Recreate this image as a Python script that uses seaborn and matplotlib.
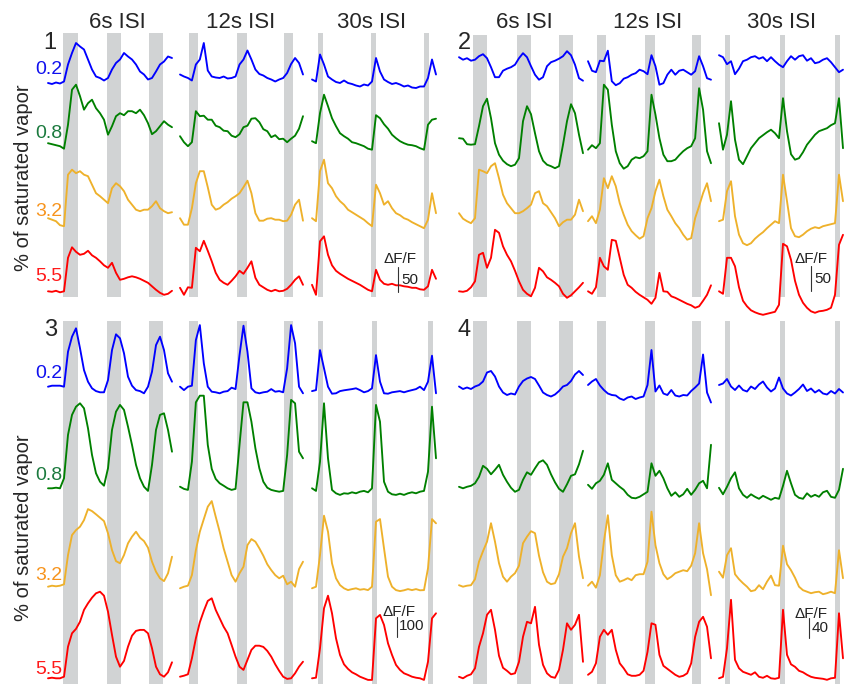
import numpy as np
import matplotlib
matplotlib.use("Agg")
import matplotlib.pyplot as plt
import seaborn as sns

# ------------------------------------------------------------------ data
isi_labels = ["6s ISI", "12s ISI", "30s ISI"]
conc_labels = ["0.2", "0.8", "3.2", "5.5"]
window_s = [26.0, 38.8, 76.5]          # recording window of each ISI column (s)
stim_dur = 3.0                          # odor pulse length (s)
onsets_p1 = [[3.2, 12.3, 21.2], [2.8, 18.0, 32.8], [3.7, 36.4, 69.4]]
onsets_p2 = [[2.9, 12.1, 21.0], [2.8, 18.0, 32.8], [3.7, 37.7, 71.6]]
onsets_p3 = [[3.2, 12.3, 21.2], [2.8, 18.0, 32.8], [3.7, 37.3, 71.6]]
onsets_p4 = [[2.9, 12.1, 21.0], [2.8, 18.0, 32.8], [3.7, 37.7, 71.6]]
scale_values = [50, 50, 100, 40]        # dF/F scale bar (%)

# dF/F (%) traces, order: 0.2, 0.8, 3.2, 5.5
p1_6s_02 = [0,-2,1,-1,3,37,60,80,73,67,47,27,13,10,5,10,27,40,47,60,53,47,37,23,17,7,10,23,37,43,53,50]
p1_6s_08 = [3,1,-1,-3,-8,40,110,120,97,70,83,90,73,63,50,20,37,57,63,59,67,67,63,70,59,43,21,27,37,47,40,35]
p1_6s_32 = [3,0,-3,-11,-13,90,100,93,97,90,87,70,53,47,40,33,63,73,67,57,40,30,20,17,20,20,27,37,23,17,13,15]
p1_6s_55 = [0,-1,1,-2,0,67,88,79,73,75,81,72,67,60,52,47,57,37,23,25,28,30,28,25,21,17,10,3,-3,-7,-5,1]
p1_12s_02 = [17,13,10,5,37,47,80,25,13,11,10,13,9,10,13,37,47,65,47,27,18,15,10,7,3,7,10,20,38,50,40,17]
p1_12s_08 = [17,5,-3,5,67,57,58,50,50,38,35,28,27,18,15,21,35,38,52,53,45,31,27,15,19,11,12,5,12,18,32,57]
p1_12s_32 = [3,-10,-10,23,73,97,97,65,30,20,23,30,35,42,47,53,65,78,53,13,-2,-2,2,3,0,0,-3,-2,10,30,40,-2]
p1_12s_55 = [7,-7,8,7,87,80,101,81,60,37,23,17,13,21,30,41,35,47,60,27,13,8,3,0,3,0,1,5,13,23,30,13]
p1_30s_02 = [7,3,57,37,13,7,2,0,5,0,-2,-5,-7,-3,-5,3,50,23,7,2,-2,0,-3,-7,-5,-9,-10,-7,-7,10,47,17]
p1_30s_08 = [7,3,63,100,77,53,37,23,17,12,5,3,0,-3,-8,-10,59,53,41,32,20,13,7,3,0,-1,-3,-7,-10,40,50,52]
p1_30s_32 = [3,-3,97,120,73,63,47,37,30,20,15,10,5,0,-7,-13,70,53,30,37,23,13,9,3,0,-5,-9,-13,-17,0,53,13]
p1_30s_55 = [13,-7,100,110,73,52,41,35,30,25,21,17,13,8,3,0,43,23,15,13,15,12,12,10,9,7,7,4,3,10,43,25]

p2_6s_02 = [15,10,13,8,10,17,21,13,-5,-25,-25,-12,-8,-5,0,13,23,15,-3,-20,-30,-25,-3,5,8,12,17,27,19,0,-27,-32]
p2_6s_08 = [13,12,1,0,1,37,77,92,53,3,-20,-32,-39,-43,-40,-27,47,77,61,23,-13,-32,-40,-43,-47,-43,0,47,81,63,20,-17]
p2_6s_32 = [13,2,-3,-7,3,100,97,93,107,113,83,50,33,23,13,13,17,23,30,53,57,33,27,15,3,-13,-5,0,0,10,40,17]
p2_6s_55 = [0,-1,1,8,20,73,77,47,67,123,117,90,73,60,41,20,3,-5,-10,7,47,40,28,23,17,10,-5,-13,-8,0,8,17]
p2_12s_02 = [7,-12,-15,8,7,28,-33,-41,-37,-28,-25,-20,-17,-10,-13,-19,19,-3,-40,-37,-20,-10,-20,-12,-10,-15,-20,-13,17,-3,-27,-30]
p2_12s_08 = [-10,-1,-7,3,120,110,40,-13,-37,-48,-43,-30,-25,-27,-23,-13,100,60,13,-20,-33,-33,-30,-21,-13,-7,-3,13,113,70,-13,-37]
p2_12s_32 = [-3,7,-7,20,83,63,87,67,33,10,-10,-23,-31,-38,-33,3,23,57,80,47,20,7,-7,-17,-30,-40,-37,3,27,53,73,37]
p2_12s_55 = [0,-5,8,67,50,43,103,101,67,33,13,7,-1,-7,-12,-17,-25,-13,37,0,-1,-10,-13,-17,-21,-25,-28,-33,-30,-19,-7,12]
p2_30s_02 = [19,15,1,7,-19,-8,7,10,15,17,12,15,7,15,7,0,-5,7,17,10,17,19,8,13,3,5,10,13,5,-5,-15,-10]
p2_30s_08 = [43,-10,20,87,10,-30,-39,-23,-7,3,13,19,25,30,23,13,93,27,-19,-30,-27,-15,0,10,20,27,30,33,39,43,93,-7]
p2_30s_32 = [-3,0,57,77,7,-30,-47,-51,-47,-38,-31,-25,-17,-10,-3,-7,90,37,-17,-33,-35,-30,-23,-18,-15,-17,-13,-11,-9,-7,90,37]
p2_30s_55 = [0,-5,67,67,50,8,-19,-30,-38,-42,-45,-47,-45,-43,-41,-27,95,90,63,21,-7,-23,-33,-40,-43,-40,-39,-37,-33,-7,93,113]

p3_6s_02 = [25,30,30,30,25,200,275,317,217,108,50,17,3,-3,-3,58,208,287,267,192,75,30,8,3,-8,25,100,233,275,208,92,50]
p3_6s_08 = [0,0,3,0,50,267,367,408,425,400,300,167,75,33,13,100,292,383,417,392,308,217,117,50,8,-13,117,292,367,375,292,183]
p3_6s_32 = [-5,0,-3,0,7,153,253,278,295,328,383,373,357,340,323,262,178,123,112,153,212,245,270,240,223,190,120,70,37,23,62,145]
p3_6s_55 = [0,3,0,0,8,158,225,247,283,342,375,403,425,433,413,333,217,108,58,87,158,213,237,242,242,225,150,58,20,8,30,80]
p3_12s_02 = [25,8,25,30,258,333,142,25,0,-3,-8,0,3,20,13,183,330,200,17,-3,-8,-3,0,13,0,3,-3,117,333,242,25,-8]
p3_12s_08 = [8,-3,-8,133,430,463,463,217,97,47,25,13,0,-8,-3,217,430,430,333,200,100,33,3,-8,-13,-17,-13,167,442,425,183,150]
p3_12s_32 = [-13,-5,0,53,178,270,333,395,423,345,270,187,120,53,20,62,95,203,233,220,187,150,107,78,53,37,50,7,20,-5,83,120]
p3_12s_55 = [8,13,20,100,200,280,337,387,400,342,300,258,225,167,108,58,42,92,142,163,163,157,137,108,70,37,8,-3,0,25,58,83]
p3_30s_02 = [3,8,208,117,25,-10,-8,3,7,10,13,17,8,-3,3,17,183,50,-8,-10,-3,0,3,-3,3,8,13,25,8,50,180,-8]
p3_30s_08 = [0,-13,133,425,150,-8,-25,-33,-25,-27,-20,-25,-17,-13,-20,0,417,333,33,-17,-30,-33,-27,-33,-25,-20,-25,-17,-13,83,408,150]
p3_30s_32 = [-13,-5,153,350,270,112,37,3,-13,-22,-17,-13,-20,-17,-22,-5,320,333,187,45,-5,-22,-27,-23,-17,-22,-17,-23,-22,87,333,312]
p3_30s_55 = [0,3,150,350,413,325,200,117,70,47,30,20,8,0,-8,-8,300,317,267,175,117,67,42,25,17,8,3,0,-8,83,300,325]

p4_6s_02 = [7,2,5,2,7,10,17,35,38,27,7,-5,-10,-7,-9,7,18,23,26,22,9,-5,-10,-13,-9,-2,7,10,18,31,38,30]
p4_6s_08 = [3,0,3,5,10,23,45,39,28,37,47,27,13,1,-7,-3,17,32,27,40,52,56,47,28,12,-1,-7,8,25,28,48,75]
p4_6s_32 = [1,-2,0,1,13,48,69,88,125,88,45,18,8,18,25,40,85,98,109,105,60,27,8,3,5,23,58,75,105,125,58,15]
p4_6s_55 = [3,0,5,8,20,63,90,127,137,97,45,21,15,8,10,33,83,113,110,143,67,27,10,3,1,17,57,110,97,107,127,33]
p4_12s_02 = [10,17,22,9,0,-7,-10,-11,-17,-20,-15,-13,-18,-15,-13,10,80,-3,9,-7,-10,0,-11,-13,-10,-11,-2,5,13,71,-5,-25]
p4_12s_08 = [7,-1,10,15,27,50,17,10,3,-3,-13,-19,-20,-17,-12,-7,50,25,35,20,0,-15,-8,-17,-12,-1,-13,-3,10,15,0,87]
p4_12s_32 = [0,8,-4,21,88,141,61,21,8,11,15,11,21,23,23,48,148,81,45,23,13,18,25,28,31,29,40,65,125,65,33,-19]
p4_12s_55 = [7,13,30,83,97,87,97,57,30,20,8,5,5,7,15,53,110,107,47,25,19,13,7,3,5,10,30,83,113,123,103,40]
p4_30s_02 = [10,13,22,7,0,9,0,-3,7,2,11,17,5,-3,3,25,3,-7,-11,-5,2,11,-2,3,-5,0,-7,-9,-2,-7,2,-5]
p4_30s_08 = [1,-12,3,20,32,0,-13,-19,-12,-17,-21,-15,-19,-23,-19,-21,5,35,10,-13,-19,-21,-10,-17,-13,-17,-8,-5,-17,-19,-3,39]
p4_30s_32 = [28,16,61,75,23,13,5,-2,-11,-9,1,-7,8,20,1,0,80,43,31,16,-2,-9,-12,-15,-13,-12,-17,-15,-12,-15,71,15]
p4_30s_55 = [0,3,60,157,37,20,13,10,7,12,3,1,5,0,-1,1,137,47,28,23,15,12,7,3,1,0,-1,-3,0,1,130,40]

traces = {
    1: [[p1_6s_02, p1_6s_08, p1_6s_32, p1_6s_55],
        [p1_12s_02, p1_12s_08, p1_12s_32, p1_12s_55],
        [p1_30s_02, p1_30s_08, p1_30s_32, p1_30s_55]],
    2: [[p2_6s_02, p2_6s_08, p2_6s_32, p2_6s_55],
        [p2_12s_02, p2_12s_08, p2_12s_32, p2_12s_55],
        [p2_30s_02, p2_30s_08, p2_30s_32, p2_30s_55]],
    3: [[p3_6s_02, p3_6s_08, p3_6s_32, p3_6s_55],
        [p3_12s_02, p3_12s_08, p3_12s_32, p3_12s_55],
        [p3_30s_02, p3_30s_08, p3_30s_32, p3_30s_55]],
    4: [[p4_6s_02, p4_6s_08, p4_6s_32, p4_6s_55],
        [p4_12s_02, p4_12s_08, p4_12s_32, p4_12s_55],
        [p4_30s_02, p4_30s_08, p4_30s_32, p4_30s_55]],
}
onsets = {1: onsets_p1, 2: onsets_p2, 3: onsets_p3, 4: onsets_p4}

# ------------------------------------------------------------------ layout / style
FIG_W, FIG_H = 854, 685
cols_left = [(48, 172), (180, 303), (312, 436)]
cols_right = [(459, 583), (588, 711), (719, 843)]
panel_cols_px = {1: cols_left, 2: cols_right, 3: cols_left, 4: cols_right}
panel_rows_px = {1: (33, 297), 2: (35, 297), 3: (321, 684), 4: (321, 684)}
units_per_px = {1: 2.0, 2: 2.0, 3: 5.0, 4: 2.0}
baselines_px = {1: [83, 144.7, 219.7, 291.3], 2: [64.7, 144.7, 219.7, 291.3],
                3: [391.7, 488.3, 585.7, 678.3], 4: [390, 488.3, 585.7, 678.3]}
trace_colors = ["#0000FF", "#008000", "#EEB12B", "#FF0000"]
label_colors = ["#1010EE", "#1B7A3E", "#F7941D", "#FF1A1A"]
bar_color = "#D1D3D4"

# scale bar: (x, bottom y) px, dF/F text centre, value text left/centre
scale_layout = {1: ((398, 292), (400, 259), (401, 280)),
                2: ((811, 291), (811, 259), (814, 279)),
                3: ((397, 637), (399, 612), (399, 626)),
                4: ((809, 638), (811, 614), (812, 628))}

sns.set_theme(style="white")
plt.rcParams["font.family"] = ["Liberation Sans", "DejaVu Sans"]

fig = plt.figure(figsize=(FIG_W / 100, FIG_H / 100), dpi=100)
fig.patch.set_facecolor("white")


def fx(px):
    return px / FIG_W


def fy(py):
    return 1 - py / FIG_H


for p in (1, 2, 3, 4):
    top, bot = panel_rows_px[p]
    k = units_per_px[p]
    for c in range(3):
        x0, x1 = panel_cols_px[p][c]
        ax = fig.add_axes([fx(x0), fy(bot), (x1 - x0) / FIG_W, (bot - top) / FIG_H])
        T = window_s[c]
        ax.set_xlim(0, T)
        ax.set_ylim(0, (bot - top) * k)
        for on in onsets[p][c]:
            ax.axvspan(on, on + stim_dur, ymin=0, ymax=1, color=bar_color, lw=0, zorder=0)
        for i in range(4):
            vals = np.asarray(traces[p][c][i], dtype=float)
            t = np.linspace(0, T, len(vals))
            offset = (bot - baselines_px[p][i]) * k
            sns.lineplot(x=t, y=vals + offset, ax=ax, color=trace_colors[i],
                         linewidth=1.35, sort=False, estimator=None,
                         clip_on=False, zorder=2)
        ax.axis("off")
        if c == 2:
            (bx, by), (tx, ty), (vx, vy) = scale_layout[p]
            xd = (bx - x0) / (x1 - x0) * T
            yd = (bot - by) * k
            ax.plot([xd, xd], [yd, yd + scale_values[p - 1]], color="#333333",
                    lw=0.8, clip_on=False, zorder=3)
            fig.text(fx(tx), fy(ty), "\u0394F/F", ha="center", va="center",
                     fontsize=11, color="#222222")
            fig.text(fx(vx), fy(vy), str(scale_values[p - 1]), ha="left",
                     va="center", fontsize=11, color="#222222")

# column headers
for cx, lab in zip([117, 241, 372], isi_labels):
    fig.text(fx(cx), fy(23), lab, ha="center", va="center", fontsize=16)
for cx, lab in zip([524, 648, 782], isi_labels):
    fig.text(fx(cx), fy(23), lab, ha="center", va="center", fontsize=16)

# panel numbers
for num, (px_, py_) in zip(["1", "2", "3", "4"], [(50, 43), (464, 43), (51, 330), (464, 330)]):
    fig.text(fx(px_), fy(py_), num, ha="center", va="center", fontsize=17)

# concentration labels
for ys in ([70, 133, 212, 277], [374, 476, 575, 670]):
    for lab, col, yy in zip(conc_labels, label_colors, ys):
        fig.text(fx(62), fy(yy), lab, ha="right", va="center", fontsize=14,
                 color=col, zorder=5)

# y labels
for yy in (178, 528):
    fig.text(fx(24), fy(yy), "% of saturated vapor", rotation=90, ha="center",
             va="center", fontsize=14.5)

fig.savefig("out.png", dpi=100, facecolor="white")
